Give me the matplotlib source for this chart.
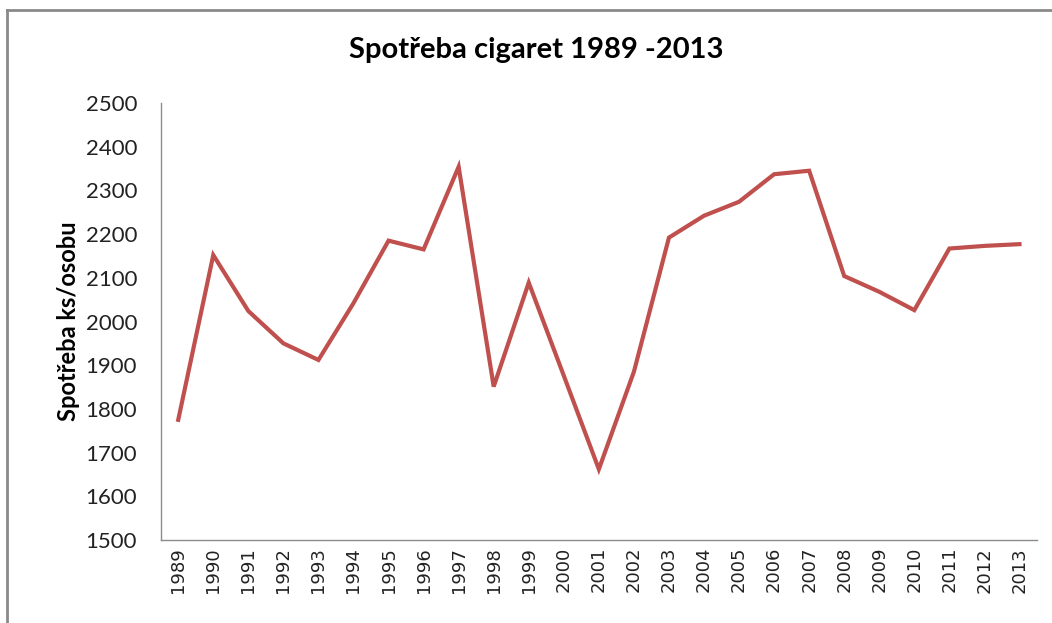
import matplotlib.pyplot as plt
from matplotlib.lines import Line2D

# Cigarette consumption per person, 1989-2013
years = [str(y) for y in range(1989, 2014)]
consumption = [1775, 2152, 2024, 1950, 1912, 2042, 2185, 2165, 2354, 1851,
               2089, 1876, 1662, 1885, 2192, 2242, 2274, 2337, 2345, 2104,
               2068, 2026, 2167, 2173, 2177]
y_ticks = list(range(1500, 2501, 100))

W, H = 1052, 623
fig = plt.figure(figsize=(W / 100, H / 100), dpi=100)
ax = fig.add_axes([160.7 / W, 1 - 540 / H, (1037 - 160.7) / W, (540 - 103) / H])

x = list(range(len(years)))
ax.plot(x, consumption, color='#C0504D', linewidth=3.0, solid_joinstyle='miter')

ax.set_xlim(-0.5, len(years) - 0.5)
ax.set_ylim(1500, 2500)
ax.set_yticks(y_ticks)
ax.set_yticklabels([str(t) for t in y_ticks], family='Lato', fontsize=16, color='#222222')
ax.set_xticks(x)
ax.set_xticklabels(years, rotation=90, family='DejaVu Sans', fontsize=13, color='#222222')
ax.tick_params(axis='both', length=0)
ax.tick_params(axis='y', pad=17)
ax.tick_params(axis='x', pad=5)

for side in ['top', 'right']:
    ax.spines[side].set_visible(False)
for side in ['left', 'bottom']:
    ax.spines[side].set_color('#8c8c8c')
    ax.spines[side].set_linewidth(1.0)

ax.set_ylabel('Spotřeba ks/osobu', family='Lato', fontweight='bold', fontsize=17, labelpad=4)

fig.text(536 / W, 1 - 50 / H, 'Spotřeba cigaret 1989 -2013', family='Lato',
         fontweight='bold', fontsize=21, ha='center', va='center')

# chart frame (top and left edges)
fig.add_artist(Line2D([7 / W, 1], [1 - 10 / H, 1 - 10 / H], transform=fig.transFigure,
                      color='#8a8a8a', linewidth=2))
fig.add_artist(Line2D([7 / W, 7 / W], [0, 1 - 10 / H], transform=fig.transFigure,
                      color='#8a8a8a', linewidth=2))

fig.savefig('out.png', dpi=100)
